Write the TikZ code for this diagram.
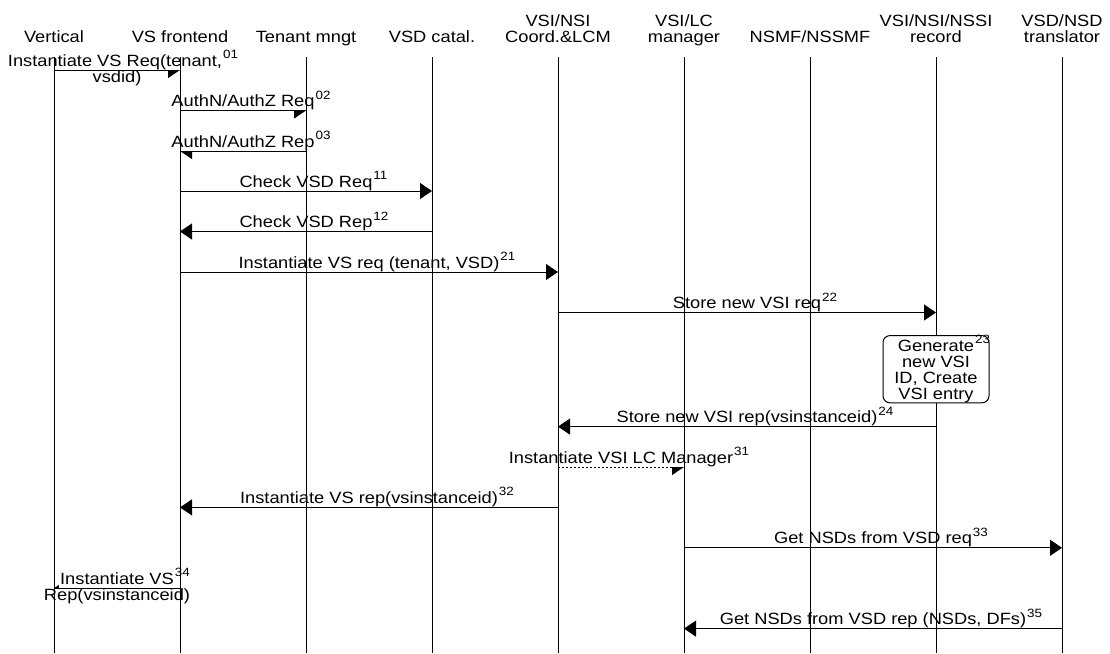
\documentclass[tikz,border=0pt]{standalone}
\usepackage{fontspec}
\setmainfont{Liberation Sans}[FakeStretch=1.12]
\usetikzlibrary{arrows.meta}
\newcommand\sid[1]{\rlap{\hspace{1pt}\raisebox{7.5pt}{\fontsize{12}{12}\selectfont #1}}}
\begin{document}
\begin{tikzpicture}[x=1pt,y=-1pt,
  lifeline/.style={line width=1pt},
  msg/.style={line width=1pt,-{Triangle[length=12pt,width=16pt]}},
  dmsg/.style={msg, dash pattern=on 2pt off 2pt},
  lbl/.style={anchor=base, fill=white, inner xsep=1pt, inner ysep=0pt,
    text height=12pt, text depth=3.5pt, font=\fontsize{16.3}{16}\selectfont},
  lblb/.style={lbl, text height=11.5pt, text depth=4pt},
  head/.style={anchor=base, inner sep=0pt, font=\fontsize{16.3}{16}\selectfont},
  actbox/.style={draw, line width=1pt, fill=white, rounded corners=7pt,
    minimum width=106pt, minimum height=65pt, align=center, inner sep=0pt,
    font=\fontsize{16.3}{16}\selectfont}]
\useasboundingbox (0,0) rectangle (1110,653);

% header labels
\node[head] (hV) at (54,42) {Vertical};
\node[head] (hF) at (180,42) {VS frontend};
\node[head] (hT) at (306,42) {Tenant mngt};
\node[head] (hC) at (432,42) {VSD catal.};
\node[head] (hO1) at (558,26) {VSI/NSI};
\node[head] (hO) at (558,42) {Coord.\&LCM};
\node[head] (hL1) at (684,26) {VSI/LC};
\node[head] (hL) at (684,42) {manager};
\node[head] (hN) at (810,42) {NSMF/NSSMF};
\node[head] (hR1) at (936,26) {VSI/NSI/NSSI};
\node[head] (hR) at (936,42) {record};
\node[head] (hD1) at (1062,26) {VSD/NSD};
\node[head] (hD) at (1062,42) {translator};

% lifeline ends
\coordinate (L0) at (54,57);   \coordinate (B0) at (54,653);
\coordinate (L1) at (180,57);  \coordinate (B1) at (180,653);
\coordinate (L2) at (306,57);  \coordinate (B2) at (306,653);
\coordinate (L3) at (432,57);  \coordinate (B3) at (432,653);
\coordinate (L4) at (558,57);  \coordinate (B4) at (558,653);
\coordinate (L5) at (684,57);  \coordinate (B5) at (684,653);
\coordinate (L6) at (810,57);  \coordinate (B6) at (810,653);
\coordinate (L7) at (936,57);  \coordinate (B7) at (936,653);
\coordinate (L8) at (1062,57); \coordinate (B8) at (1062,653);

% messages
\draw[msg] (L0 |- 0,70) -- (L1 |- 0,70);
\draw[msg] (L1 |- 0,110.5) -- (L2 |- 0,110.5);
\draw[msg] (L2 |- 0,151) -- (L1 |- 0,151);
\draw[msg] (L1 |- 0,191) -- (L3 |- 0,191);
\draw[msg] (L3 |- 0,231.5) -- (L1 |- 0,231.5);
\draw[msg] (L1 |- 0,272) -- (L4 |- 0,272);
\draw[msg] (L4 |- 0,312.5) -- (L7 |- 0,312.5);
\draw[msg] (L7 |- 0,426.6) -- (L4 |- 0,426.6);
\draw[dmsg] (L4 |- 0,467) -- (L5 |- 0,467);
\draw[msg] (L4 |- 0,507.4) -- (L1 |- 0,507.4);
\draw[msg] (L5 |- 0,547.8) -- (L8 |- 0,547.8);
\draw[msg] (L1 |- 0,588.2) -- (L0 |- 0,588.2);
\draw[msg] (L8 |- 0,628.6) -- (L5 |- 0,628.6);

% message labels
\node[lbl] (m01) at (115,66) {Instantiate VS Req(tenant,\sid{01}};
\node[lblb] (m01b) at (117,82) {vsdid)};
\node[lbl] (m02) at (243,106.5) {AuthN/AuthZ Req\sid{02}};
\node[lbl] (m03) at (243,147) {AuthN/AuthZ Rep\sid{03}};
\node[lbl] (m11) at (306,187) {Check VSD Req\sid{11}};
\node[lbl] (m12) at (306,227.5) {Check VSD Rep\sid{12}};
\node[lbl] (m21) at (369,268) {Instantiate VS req (tenant, VSD)\sid{21}};
\node[lbl] (m22) at (747,308.5) {Store new VSI req\sid{22}};
\node[lbl] (m24) at (747,422.6) {Store new VSI rep(vsinstanceid)\sid{24}};
\node[lbl] (m31) at (621,463) {Instantiate VSI LC Manager\sid{31}};
\node[lbl] (m32) at (369,503.4) {Instantiate VS rep(vsinstanceid)\sid{32}};
\node[lbl] (m33) at (873,543.8) {Get NSDs from VSD req\sid{33}};
\node[lbl] (m34) at (117,584.2) {Instantiate VS\sid{34}};
\node[lblb] (m34b) at (117,600.2) {Rep(vsinstanceid)};
\node[lbl] (m35) at (873,624.6) {Get NSDs from VSD rep (NSDs, DFs)\sid{35}};

% lifelines
\foreach \i in {0,...,8} \draw[lifeline] (L\i) -- (B\i);

% action box
\node[actbox] (a23) at (936,369.2) {Generate\sid{23}\\new VSI\\ID, Create\\VSI entry};
\end{tikzpicture}
\end{document}
